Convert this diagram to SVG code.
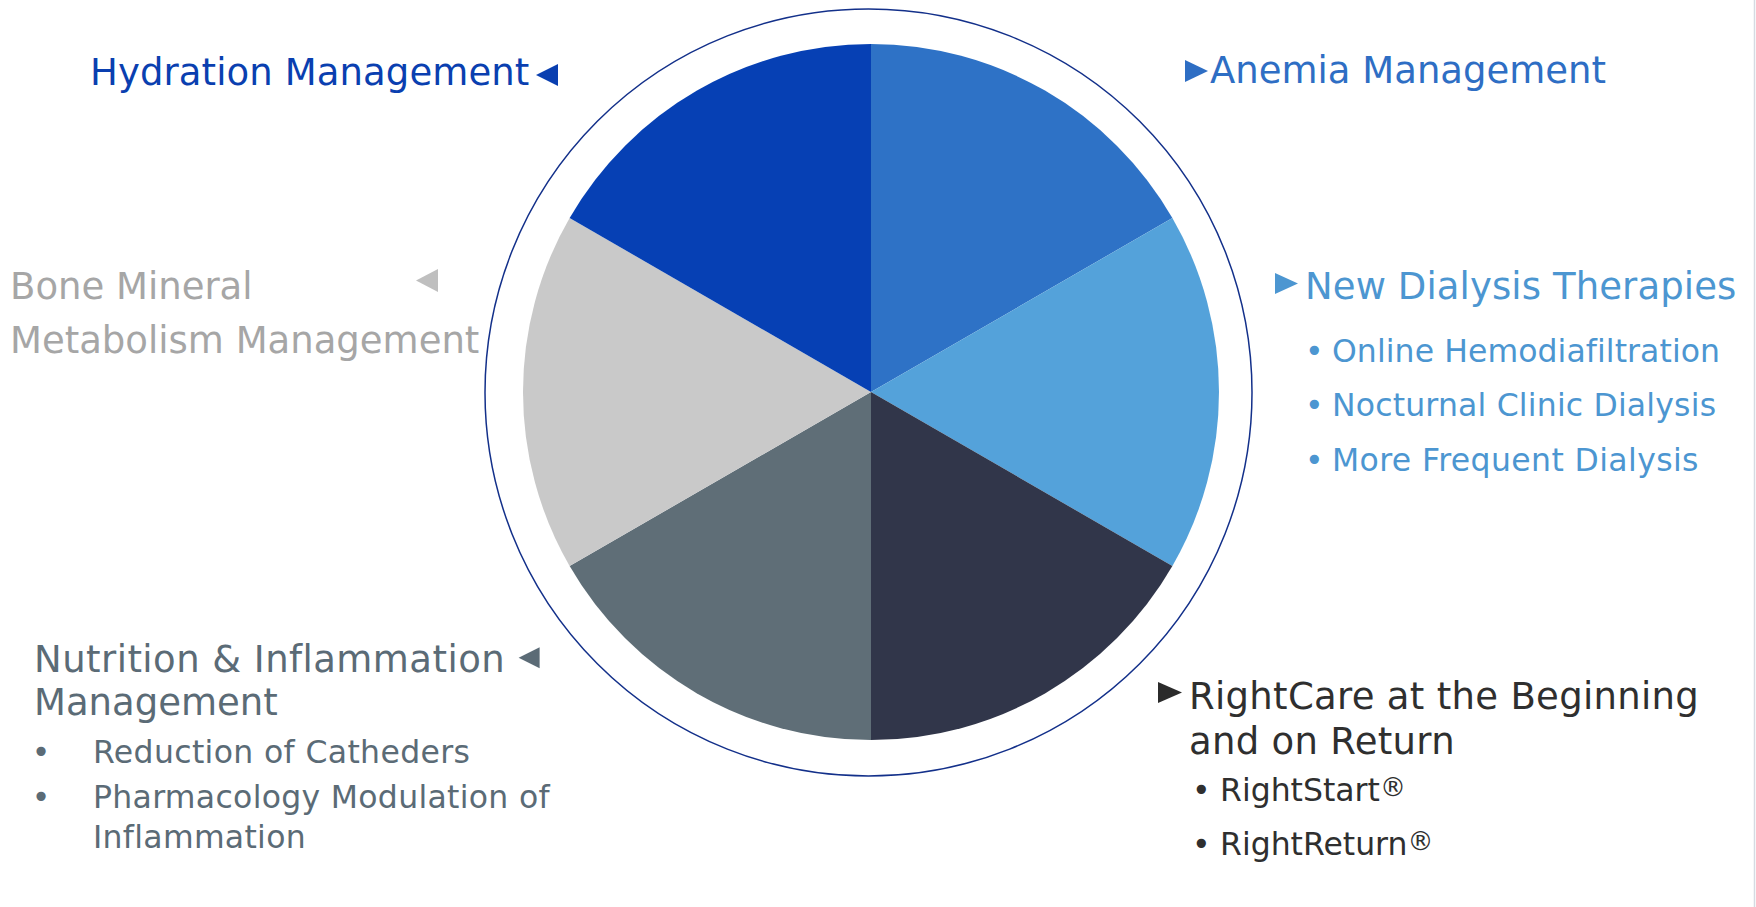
<svg xmlns="http://www.w3.org/2000/svg" width="1756" height="907" viewBox="0 0 1756 907">
<style>
text{font-family:"DejaVu Sans","Verdana",sans-serif;}
.h{font-size:37px;}
.s{font-size:31.5px;}
.reg{font-size:26px;}
</style>
<rect x="0" y="0" width="1756" height="907" fill="#ffffff"/>
<line x1="1754.5" y1="0" x2="1754.5" y2="907" stroke="#d5dbe2" stroke-width="1.5"/>
<g id="pie">
<ellipse cx="868.5" cy="392.5" rx="383.5" ry="383.5" fill="none" stroke="#13308a" stroke-width="1.5"/>
<path id="slice-anemia" d="M871,392 L871,44 A348,348 0 0 1 1172.38,218 Z" fill="#2e72c6"/>
<path id="slice-dialysis" d="M871,392 L1172.38,218 A348,348 0 0 1 1172.38,566 Z" fill="#54a2da"/>
<path id="slice-rightcare" d="M871,392 L1172.38,566 A348,348 0 0 1 871,740 Z" fill="#31364a"/>
<path id="slice-nutrition" d="M871,392 L871,740 A348,348 0 0 1 569.62,566 Z" fill="#5f6e77"/>
<path id="slice-bone" d="M871,392 L569.62,566 A348,348 0 0 1 569.62,218 Z" fill="#c9c9c9"/>
<path id="slice-hydration" d="M871,392 L569.62,218 A348,348 0 0 1 871,44 Z" fill="#0640b4"/>
</g>
<g id="hydration">
<text class="h" x="90" y="85" fill="#0a3fb0" letter-spacing="0.1">Hydration Management</text>
<polygon points="536,75 558,64 558,86" fill="#0a3fb0"/>
</g>
<g id="anemia">
<polygon points="1185,60 1185,82 1208,71" fill="#2e6ec4"/>
<text class="h" x="1210" y="83" fill="#2e6ec4">Anemia Management</text>
</g>
<g id="bone">
<text class="h" x="10" y="299" fill="#a6a6a6">Bone Mineral</text>
<text class="h" x="10" y="353" fill="#a6a6a6">Metabolism Management</text>
<polygon points="416,280.5 438,269 438,292" fill="#bfbfbf"/>
</g>
<g id="dialysis">
<polygon points="1275,273 1275,294 1298,283.5" fill="#4c96d1"/>
<text class="h" x="1305" y="298.5" fill="#4c96d1" letter-spacing="0.1">New Dialysis Therapies</text>
<text class="s" x="1305" y="361.5" fill="#4c96d1">•</text>
<text class="s" x="1332" y="361.5" fill="#4c96d1" letter-spacing="0.08">Online Hemodiafiltration</text>
<text class="s" x="1305" y="416" fill="#4c96d1">•</text>
<text class="s" x="1332" y="416" fill="#4c96d1" letter-spacing="0.18">Nocturnal Clinic Dialysis</text>
<text class="s" x="1305" y="470.5" fill="#4c96d1">•</text>
<text class="s" x="1332" y="470.5" fill="#4c96d1" letter-spacing="0.38">More Frequent Dialysis</text>
</g>
<g id="nutrition">
<text class="h" x="34" y="671.5" fill="#5b6b76" letter-spacing="0.45">Nutrition &amp; Inflammation</text>
<polygon points="518.6,657.7 539.6,647.2 539.6,668.2" fill="#5b6b76"/>
<text class="h" x="34" y="715" fill="#5b6b76">Management</text>
<text class="s" x="31.7" y="763" fill="#5b6b76">•</text>
<text class="s" x="93" y="763" fill="#5b6b76" letter-spacing="0.35">Reduction of Catheders</text>
<text class="s" x="31.7" y="808" fill="#5b6b76">•</text>
<text class="s" x="93" y="808" fill="#5b6b76" letter-spacing="0.3">Pharmacology Modulation of</text>
<text class="s" x="93" y="848" fill="#5b6b76" letter-spacing="0.3">Inflammation</text>
</g>
<g id="rightcare">
<polygon points="1158,682 1158,703 1182,692.5" fill="#2b2b2b"/>
<text class="h" x="1189" y="709" fill="#2f2f2f" letter-spacing="0.3">RightCare at the Beginning</text>
<text class="h" x="1189" y="753.5" fill="#2f2f2f" letter-spacing="0.3">and on Return</text>
<text class="s" x="1192" y="800.5" fill="#2f2f2f">•</text>
<text class="s" x="1220" y="800.5" fill="#2f2f2f">RightStart<tspan class="reg" dy="-5">®</tspan></text>
<text class="s" x="1192" y="854.5" fill="#2f2f2f">•</text>
<text class="s" x="1220" y="854.5" fill="#2f2f2f">RightReturn<tspan class="reg" dy="-5">®</tspan></text>
</g>
<g id="connectors"></g>
</svg>
